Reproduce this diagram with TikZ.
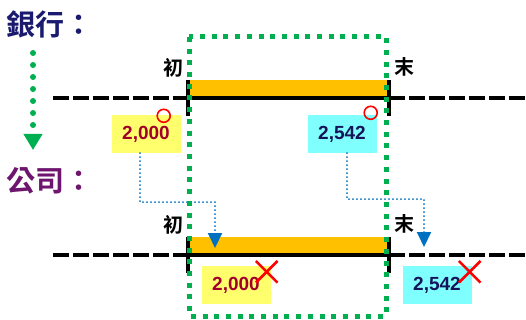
\documentclass[tikz,border=0pt]{standalone}
\usepackage{fontspec}
\setmainfont{Liberation Sans}
\newfontfamily\cjk{Noto Sans CJK TC}
\newfontfamily\cjkbold{Noto Sans CJK TC Bold}
\usetikzlibrary{arrows.meta, shapes.misc}
\definecolor{banknavy}{RGB}{26,26,110}
\definecolor{firmpurple}{RGB}{110,22,110}
\definecolor{numred}{RGB}{160,0,42}
\definecolor{numnavy}{RGB}{20,20,90}
\definecolor{barorange}{RGB}{255,192,0}
\definecolor{windowgreen}{RGB}{0,176,80}
\definecolor{flowblue}{RGB}{0,112,192}
\definecolor{boxyellow}{RGB}{255,255,110}
\definecolor{boxcyan}{RGB}{128,255,255}
\tikzset{
	title/.style={
		inner sep=0pt,
		font=\cjkbold\fontsize{29}{29}\selectfont
	},
	period label/.style={
		inner sep=0pt,
		font=\cjkbold\fontsize{20}{20}\selectfont
	},
	timeline/.style={
		line width=4pt,
		dash pattern=on 16pt off 4pt
	},
	period/.style={
		line width=4pt
	},
	period tick/.style={
		line width=4pt
	},
	amount/.style={
		minimum width=69pt,
		minimum height=38pt,
		inner sep=0pt,
		font=\bfseries\fontsize{19}{19}\selectfont
	},
	ok mark/.style={
		circle,
		draw=red,
		line width=1.6pt,
		minimum size=13pt,
		inner sep=0pt
	},
	wrong mark/.style={
		cross out,
		draw=red,
		line width=2.6pt,
		minimum size=19pt,
		inner sep=0pt
	},
	transfer/.style={
		flowblue,
		line width=2pt,
		line cap=round,
		dash pattern=on 0pt off 4pt,
		-{Triangle[width=14pt, length=15pt]}
	},
	window/.style={
		windowgreen,
		line width=5pt,
		dash pattern=on 5pt off 6.7pt
	},
}

\begin{document}
\begin{tikzpicture}[x=1pt, y=-1pt]
\useasboundingbox (0,0) rectangle (526,320);

% titles and the flow between them
\node [title, text=banknavy, anchor=west] (bank-title) at (6,24) {銀行：};
\node [title, text=firmpurple, anchor=west] (firm-title) at (6,181) {公司：};
\coordinate (flow-start) at (33,53);
\coordinate (flow-end) at (33,150);
\draw [windowgreen, line width=6pt, line cap=round, dash pattern=on 0pt off 12pt,
	-{Triangle[width=18pt, length=16pt]}] (flow-start) -- (flow-end);

% the two time lines
\foreach \r/\y in {bank/98, firm/255} {
	\coordinate (\r-left) at (53,\y);
	\coordinate (\r-right) at (526,\y);
	\coordinate (\r-begin) at (188,\y);
	\coordinate (\r-end) at (389,\y);
	\fill [barorange] ([yshift=18pt]\r-begin) rectangle ([yshift=2pt]\r-end);
	\draw [timeline] (\r-left) -- (\r-begin);
	\draw [timeline] (\r-end) -- (\r-right);
	\draw [period] (\r-begin) -- (\r-end);
	\foreach \p in {begin, end}
		\draw [period tick] ([yshift=18pt]\r-\p) -- ([yshift=-18pt]\r-\p);
	\node [period label] (\r-init) at ([xshift=-15pt, yshift=30pt]\r-begin) {初};
	\node [period label] (\r-final) at ([xshift=15pt, yshift=31pt]\r-end) {末};
}

% amounts
\node [amount, fill=boxyellow, text=numred] (bank-open) at (146,134) {2,000};
\node [amount, fill=boxcyan, text=numnavy] (bank-close) at (342,134) {2,542};
\node [amount, fill=boxyellow, text=numred] (firm-open) at (236,285) {2,000};
\node [amount, fill=boxcyan, text=numnavy] (firm-close) at (437,285) {2,542};

\node [ok mark] (bank-open-ok) at ([xshift=-17pt, yshift=-1pt]bank-open.north east) {};
\node [ok mark] (bank-close-ok) at ([xshift=-6pt, yshift=2pt]bank-close.north east) {};
\node [wrong mark] (firm-open-wrong) at ([xshift=-4pt, yshift=-6pt]firm-open.north east) {};
\node [wrong mark] (firm-close-wrong) at ([xshift=-2pt, yshift=-6pt]firm-close.north east) {};

% transfers to the company
\coordinate (firm-open-tip) at ([xshift=27pt, yshift=7pt]firm-begin);
\coordinate (firm-close-tip) at ([xshift=35pt, yshift=8pt]firm-end);
\draw [transfer] ([xshift=-6pt]bank-open.south) -- ++(0,49) -| (firm-open-tip);
\draw [transfer] ([xshift=5pt]bank-close.south) -- ++(0,46) -| (firm-close-tip);

% the period window
\coordinate (window-nw) at (189,37);
\coordinate (window-se) at (386,316);
\draw [window] (window-nw) rectangle (window-se);

\end{tikzpicture}
\end{document}
